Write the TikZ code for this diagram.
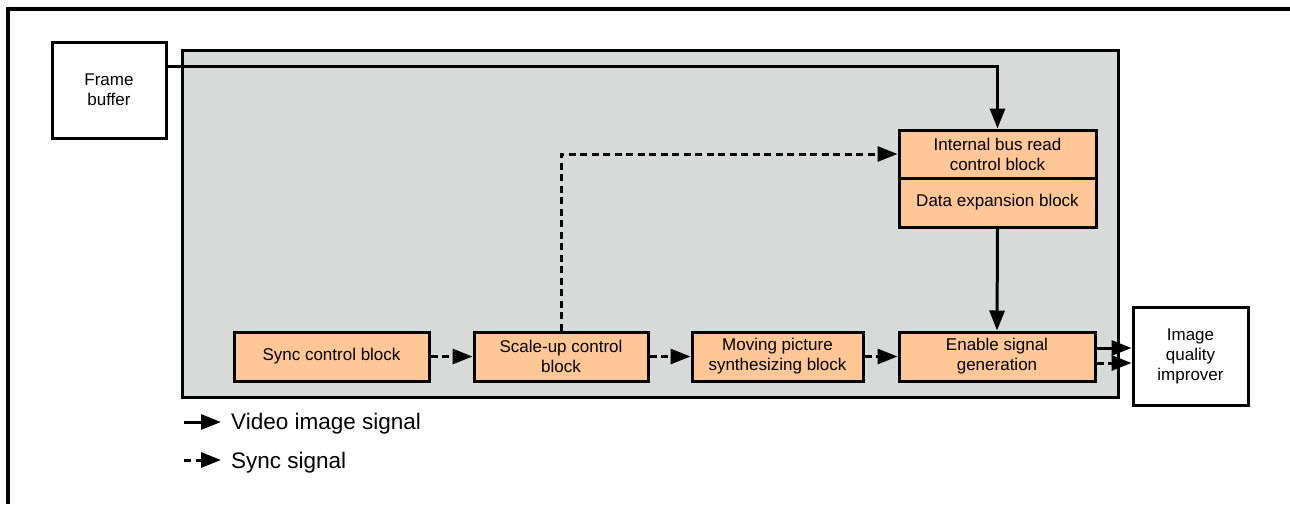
\documentclass[tikz,border=0pt]{standalone}
\usepackage{fontspec}
\setmainfont{Liberation Sans}
\usetikzlibrary{arrows.meta}
\definecolor{panel}{HTML}{D8D9D9}
\definecolor{peach}{HTML}{FFC795}
\tikzset{
  box/.style={draw=black, line width=3pt, align=center, inner sep=1pt,
    font=\fontsize{17}{20}\selectfont, text=black},
  ob/.style={box, fill=peach},
  wb/.style={box, fill=white},
  vid/.style={line width=3pt, -{Triangle[length=20pt,width=15pt]}},
  syn/.style={vid, dash pattern=on 7pt off 4.5pt},
  legtext/.style={anchor=west, inner sep=0pt, font=\fontsize{22.5}{27}\selectfont}
}
\begin{document}
\begin{tikzpicture}[x=1pt,y=-1pt]
\useasboundingbox (0,0) rectangle (1290,504);
% outer frame (only top and left visible)
\draw[line width=3.2pt] (8,504) -- (8,9) -- (1290,9);
% panel
\node[draw=black, line width=3pt, fill=panel, minimum width=936pt, minimum height=347pt, inner sep=0pt] (panel) at (650,223.5) {};
% nodes
\node[wb, minimum width=114pt, minimum height=96pt] (fb) at (109,90) {Frame\\buffer};
\node[ob, minimum width=197pt, minimum height=48pt] (ibr) at (997.5,154) {Internal bus read\\control block};
\node[ob, minimum width=197pt, minimum height=49pt] (dex) at (997.5,202.5) {Data expansion block};
\node[ob, minimum width=195pt, minimum height=49pt] (sync) at (331.5,356.5) {Sync control block};
\node[ob, minimum width=174pt, minimum height=49pt] (scale) at (561,356.5) {Scale-up control\\block};
\node[ob, minimum width=171pt, minimum height=49pt] (mov) at (777.5,356.5) {Moving picture\\synthesizing block};
\node[ob, minimum width=196pt, minimum height=49pt] (en) at (997,356.5) {Enable signal\\generation};
\node[wb, minimum width=115pt, minimum height=98pt] (iq) at (1190.5,356) {Image\\quality\\improver};
% connectors
\draw[vid] (fb.east |- 0,66) -| (ibr.north);
\draw[syn] (scale.north) |- (ibr.west);
\draw[vid] (dex.south) -- (en.north);
\draw[syn] (sync.east) -- (scale.west);
\draw[syn] (scale.east) -- (mov.west);
\draw[syn] (mov.east) -- (en.west);
\draw[vid] (en.east |- 0,348) -- (iq.west |- 0,348);
\draw[syn] (en.east |- 0,363) -- (iq.west |- 0,363);
% legend
\coordinate (l1a) at (184,422);
\coordinate (l1b) at (221,422);
\coordinate (l2a) at (184,460);
\coordinate (l2b) at (221,460);
\draw[vid] (l1a) -- (l1b);
\draw[syn] (l2a) -- (l2b);
\node[legtext] (lt1) at (231,424) {Video image signal};
\node[legtext] (lt2) at (231,463) {Sync signal};
\end{tikzpicture}
\end{document}
